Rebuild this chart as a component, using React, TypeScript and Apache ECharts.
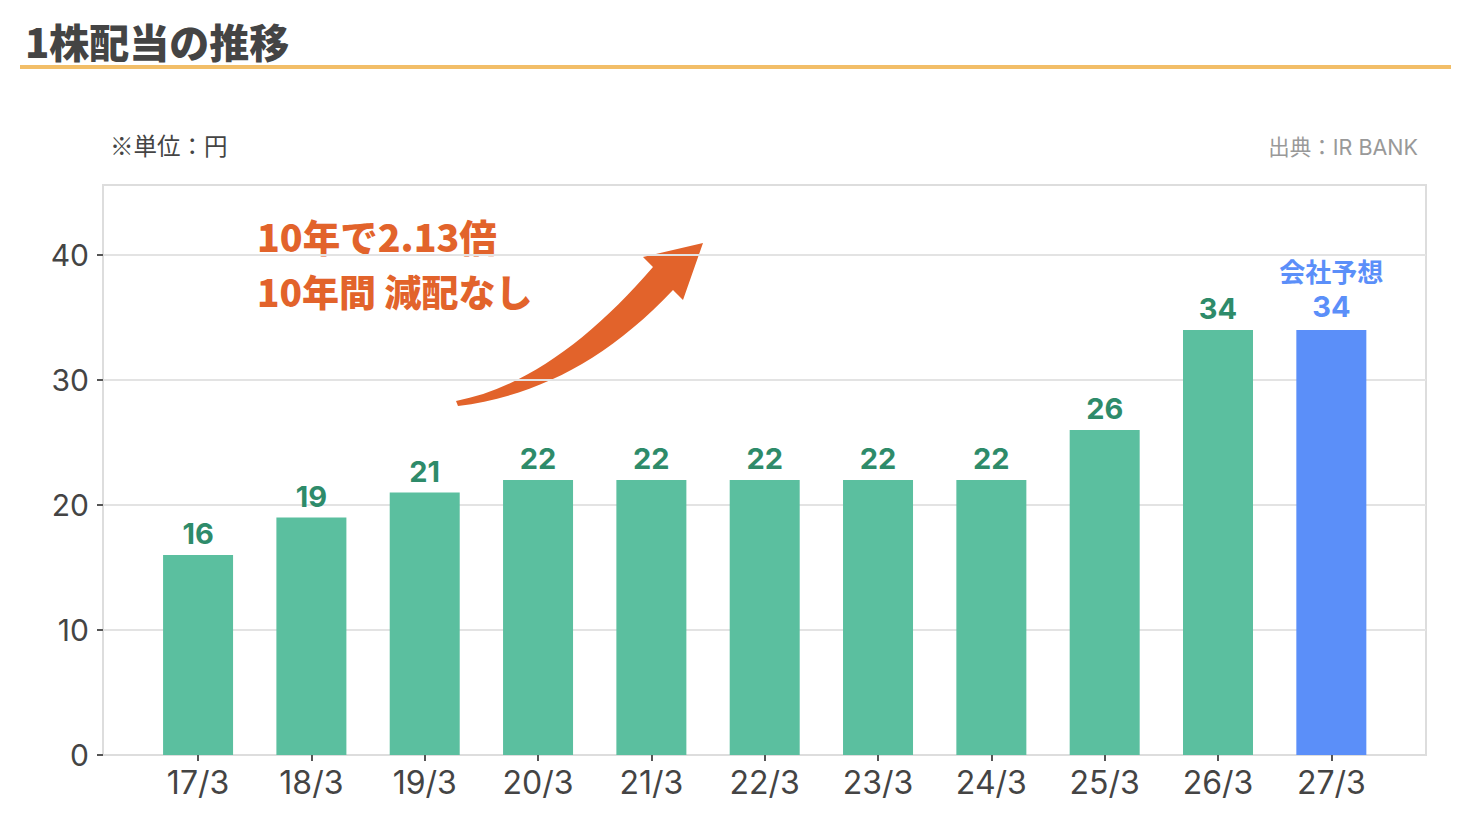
import React, { useEffect, useRef } from "react";
import * as echarts from "echarts";

const categories = ["17/3", "18/3", "19/3", "20/3", "21/3", "22/3", "23/3", "24/3", "25/3", "26/3", "27/3"];
const dividends = [16, 19, 21, 22, 22, 22, 22, 22, 26, 34, 34];
const forecastIndex = 10;
const yTicks = [0, 10, 20, 30, 40];

const GREEN = "#5BBF9F";
const GREEN_LABEL = "#2E8B6A";
const BLUE = "#5B8FF9";
const ORANGE = "#E2632B";
const NUM_FONT = "Inter, 'Noto Sans CJK JP', sans-serif";
const JP_FONT = "'Noto Sans CJK JP', sans-serif";

const arrowPath =
  "M456,401 C525,388 592,338 653,267 L643,257 L703,243 L683,300 L673,290 C605,362 535,396 458,406 Z";

let registered = false;

export default function App() {
  const ref = useRef<HTMLDivElement>(null);
  useEffect(() => {
    if (!registered) {
      echarts.graphic.registerShape("arrowShape", echarts.graphic.extendPath(arrowPath, {}));
      registered = true;
    }
    const chart = echarts.init(ref.current!, null, { renderer: "svg" });
    const yMax = 45.6;
    const option: any = {
      animation: false,
      backgroundColor: "#fff",
      grid: [
        { left: 103, right: 44, top: 185, bottom: 85, show: true, borderColor: "#dddddd", borderWidth: 2, containLabel: false },
        { left: 141.4, right: 82, top: 185, bottom: 85, containLabel: false },
      ],
      xAxis: [
        {
          gridIndex: 0,
          type: "category",
          data: categories,
          axisLine: { show: true, lineStyle: { color: "#dddddd", width: 2 } },
          axisTick: { show: false },
          axisLabel: { show: false },
          splitLine: { show: false },
        },
        {
          gridIndex: 1,
          type: "category",
          data: categories,
          boundaryGap: true,
          axisLine: { show: false },
          axisTick: { show: true, alignWithLabel: true, length: 6, lineStyle: { color: "#555", width: 2 } },
          axisLabel: { color: "#444", fontSize: 32, fontFamily: NUM_FONT, margin: 11 },
          splitLine: { show: false },
        },
      ],
      yAxis: [
        {
          gridIndex: 0,
          type: "value",
          min: 0,
          max: yMax,
          interval: 10,
          axisLine: { show: true, lineStyle: { color: "#dddddd", width: 2 } },
          axisTick: { show: true, length: 6, lineStyle: { color: "#555", width: 2 }, customValues: yTicks },
          axisLabel: { color: "#444", fontSize: 30, fontFamily: NUM_FONT, margin: 14, customValues: yTicks },
          splitLine: { show: true, lineStyle: { color: "#e3e3e3", width: 2 } },
        },
        {
          gridIndex: 1,
          type: "value",
          min: 0,
          max: yMax,
          show: false,
          splitLine: { show: false },
        },
      ],
      series: [
        {
          type: "bar",
          xAxisIndex: 1,
          yAxisIndex: 1,
          barWidth: 70,
          data: dividends.map((v, i) =>
            i === forecastIndex
              ? {
                  value: v,
                  itemStyle: { color: BLUE },
                  label: {
                    formatter: "{a|会社予想}\n{b|{c}}",
                    rich: {
                      a: { fontSize: 26, fontWeight: "bold", color: BLUE, fontFamily: JP_FONT, lineHeight: 38 },
                      b: { fontSize: 29, fontWeight: "bold", color: BLUE, fontFamily: NUM_FONT, lineHeight: 34 },
                    },
                  },
                }
              : { value: v, itemStyle: { color: GREEN } }
          ),
          label: {
            show: true,
            position: "top",
            distance: 7,
            color: GREEN_LABEL,
            fontSize: 29,
            fontWeight: "bold",
            fontFamily: NUM_FONT,
          },
        },
      ],
      graphic: [
        {
          type: "text",
          left: 25,
          top: 21,
          style: { text: "1株配当の推移", fontSize: 40, fontWeight: 900, fill: "#444", fontFamily: JP_FONT },
        },
        {
          type: "rect",
          shape: { x: 20, y: 65, width: 1431, height: 4 },
          style: { fill: "#F2BE68" },
        },
        {
          type: "text",
          left: 110,
          top: 133,
          style: { text: "※単位：円", fontSize: 23.5, fill: "#444", fontFamily: JP_FONT },
        },
        {
          type: "text",
          right: 52,
          top: 136,
          style: { text: "出典：IR BANK", fontSize: 21.5, fill: "#999", fontFamily: NUM_FONT },
        },
        {
          type: "text",
          left: 257,
          top: 217,
          style: { text: "10年で2.13倍", fontSize: 37.5, fontWeight: 900, fill: ORANGE, fontFamily: JP_FONT },
        },
        {
          type: "text",
          left: 257,
          top: 272,
          style: { text: "10年間 減配なし", fontSize: 37, fontWeight: 900, fill: ORANGE, fontFamily: JP_FONT },
        },
        {
          type: "arrowShape",
          x: 0,
          y: 0,
          style: { fill: ORANGE },
        },
      ],
    };
    chart.setOption(option);
    return () => chart.dispose();
  }, []);
  return <div ref={ref} style={{ position: "absolute", left: 0, top: 0, width: 1470, height: 840 }} />;
}
